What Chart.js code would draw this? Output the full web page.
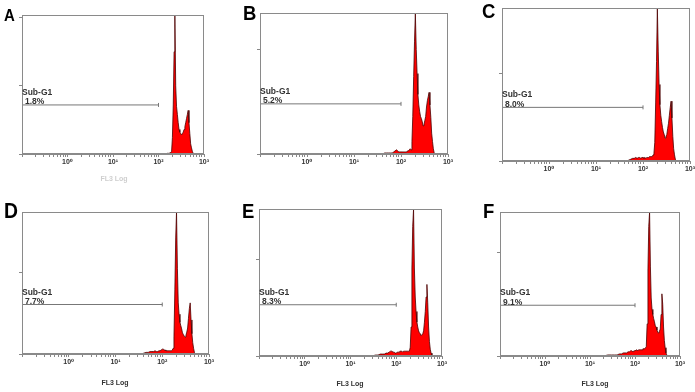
<!DOCTYPE html>
<html><head><meta charset="utf-8">
<script src="https://cdn.jsdelivr.net/npm/chart.js@4.4.1/dist/chart.umd.min.js"></script>
<style>
html,body{margin:0;padding:0;background:#fff;}
#stage{position:relative;width:695px;height:392px;overflow:hidden;background:#fff;font-family:"Liberation Sans",Arial,sans-serif;}
canvas{position:absolute;}
.letter{position:absolute;font-weight:bold;line-height:1;color:#000;transform-origin:0 0;transform:scaleX(0.88);}
.xtitle{position:absolute;width:60px;text-align:center;font-weight:bold;font-size:7px;color:#333;line-height:1;white-space:nowrap;will-change:transform;}
</style></head><body><div id="stage"></div>
<script>
// ---- data ----
const fl3Channels = [20,25,30,35,40,45,50,55,60,65,70,75,80,85,90,95,100,105,110,115,120,126,132,138,144,150,157,164,171,178,186,194,202,211,220,229,239,249,260,271,283,295,308,321,335,349,364,380,396,413,431,449,468,488,509,531,554,578,603,629,656,684];
const countsA = [0,0,0,0,0,0,0,0,0,0, 0,0,0,0,0,0,0,0,0,0, 0,0,0,0,0,0,1,1,1,2, 2,4,24,72,150,204,100,70,58,46, 36,32,30,28,30,32,36,40,46,52, 58,64,46,30,15,9,4,1,0,0, 0,0];
const countsB = [0,0,0,0,0,1,1,1,1,1, 2,3,4,3,2,2,2,2,2,2, 2,2,2,3,3,4,5,4,12,36, 74,108,135,100,77,57,47,41,36,34, 31,27,28,32,36,45,51,55,59,47, 35,20,12,5,1,0,0,0,0,0, 0,0];
const countsC = [0,0,0,0,0,0,1,2,3,3, 4,3,4,4,3,4,4,3,4,3, 4,4,4,5,5,5,5,7,9,21, 66,113,174,125,87,64,52,45,38,33, 30,26,28,30,37,43,52,61,68,49, 28,14,7,2,0,0,0,0,0,0, 0,0];
const countsD = [0,0,0,0,1,2,2,3,3,3, 4,3,3,4,4,5,6,6,5,5, 4,4,4,4,4,4,4,5,7,21, 79,143,175,105,63,49,39,35,31,26, 24,22,21,23,27,32,44,56,63,42, 25,14,7,2,0,0,0,0,0,0, 0,0];
const countsE = [0,0,0,1,1,2,2,2,3,3, 4,5,5,4,4,3,3,4,4,4, 5,5,5,4,5,5,5,5,5,5, 5,5,9,30,91,134,152,91,61,46, 35,30,26,24,23,21,21,23,26,35, 46,61,74,55,30,15,7,3,1,0, 0,0];
const countsF = [0,1,1,1,1,2,2,3,3,3, 4,4,5,5,4,5,5,5,6,5, 6,6,6,6,6,7,7,7,8,9, 31,83,125,139,86,56,45,40,36,33, 29,28,25,23,22,24,26,40,60,50, 28,15,8,3,1,0,0,0,0,0, 0,0];
const panelCounts = [countsA,countsB,countsC,countsD,countsE,countsF];
const panelLetters = ['A','B','C','D','E','F'];
const subG1Label = 'Sub-G1';
const subG1Percent = ['1.8%','5.2%','8.0%','7.7%','8.3%','9.1%'];
const subG1Level = [72,48,61,61,53,49];
const subG1Gate = [0.1,100];
const yAxisMax = [204,135,174,175,152,139];
const yTickValues = [0,100,200];
const xMajorTicks = [0.1,1,10,100,1000];
const xTickLabels = ['','10⁰','10¹','10²','10³'];
const xAxisTitle = 'FL3 Log';

// ---- layout ----
const layout = [
  {l:22, t:15, r:204, b:154, lx:4,   ly:7,   fs:17, tx:114, ty:175, tc:'#cfcfcf'},
  {l:260,t:13, r:448, b:154, lx:243, ly:2,   fs:21},
  {l:502,t:8,  r:690, b:161, lx:482, ly:0,   fs:21},
  {l:22, t:212,r:209, b:354, lx:4,   ly:200, fs:22, tx:115, ty:379, tc:'#333'},
  {l:259,t:209,r:442, b:356, lx:242, ly:200, fs:21, tx:350, ty:380, tc:'#333'},
  {l:500,t:212,r:680, b:356, lx:483, ly:200, fs:21, tx:595, ty:380, tc:'#333'}
];
const PAD_L=10, PAD_T=5, PAD_R=10, XH=22;
const FONT='"Liberation Sans", Arial, "DejaVu Sans", sans-serif';

const xAllTicks = [];
for (let d=0; d<4; d++) { for (let m=1; m<=9; m++) xAllTicks.push(m===1 ? xMajorTicks[d] : m*xMajorTicks[d]); }
xAllTicks.push(xMajorTicks[4]);

const decor = {
  id:'decor',
  afterDraw(chart, args, opts){
    const ctx=chart.ctx, a=chart.chartArea;
    ctx.save();
    ctx.strokeStyle='#8a8a8a'; ctx.lineWidth=1;
    ctx.strokeRect(Math.round(a.left)+0.5, Math.round(a.top)+0.5, Math.round(a.right-a.left)-1, Math.round(a.bottom-a.top)-1);
    const y=chart.scales.y.getPixelForValue(opts.level);
    ctx.font='bold 8.5px '+FONT; ctx.fillStyle='#333'; ctx.textBaseline='middle'; ctx.textAlign='left';
    ctx.fillText(subG1Label, a.left, Math.round(y-12));
    ctx.fillText(opts.pct, a.left+3, Math.round(y-2.5));
    ctx.restore();
  }
};

const stage=document.getElementById('stage');
layout.forEach((g,i)=>{
  const c=document.createElement('canvas');
  const w=(g.r-g.l)+PAD_L+PAD_R, h=(g.b-g.t)+PAD_T+XH;
  c.width=w; c.height=h;
  c.style.left=(g.l-PAD_L)+'px'; c.style.top=(g.t-PAD_T)+'px';
  c.style.width=w+'px'; c.style.height=h+'px';
  stage.appendChild(c);

  const L=document.createElement('div');
  L.className='letter'; L.textContent=panelLetters[i];
  L.style.left=g.lx+'px'; L.style.top=g.ly+'px'; L.style.fontSize=g.fs+'px';
  stage.appendChild(L);
  if (g.tx!==undefined){
    const T=document.createElement('div');
    T.className='xtitle'; T.textContent=xAxisTitle;
    T.style.left=(g.tx-30)+'px'; T.style.top=g.ty+'px'; T.style.color=g.tc;
    stage.appendChild(T);
  }

  const counts=panelCounts[i];
  new Chart(c,{
    type:'line',
    data:{datasets:[
      {data:fl3Channels.map((x,k)=>({x:x,y:counts[k]})), fill:'origin', backgroundColor:'#ff0000',
       borderColor:'#4a0000', borderWidth:0.8, pointRadius:0, tension:0, order:2},
      {data:subG1Gate.map(x=>({x:x,y:subG1Level[i]})), fill:false, borderColor:'#777', borderWidth:1,
       pointRadius:[0,2], pointStyle:'line', rotation:90, pointBorderColor:'#777', pointBorderWidth:1, order:1}
    ]},
    options:{
      responsive:false, animation:false, devicePixelRatio:1,
      layout:{padding:{left:0,top:PAD_T,right:PAD_R,bottom:0}},
      plugins:{legend:{display:false}, tooltip:{enabled:false}, decor:{level:subG1Level[i], pct:subG1Percent[i]}},
      scales:{
        x:{type:'logarithmic', min:0.1, max:1000,
           afterBuildTicks:s=>{s.ticks=xAllTicks.map(v=>({value:v}));},
           afterFit:s=>{s.height=XH;},
           ticks:{autoSkip:false, maxRotation:0, minRotation:0, padding:1, color:'#333',
                  font:{size:7, weight:'bold', family:FONT},
                  callback:(v)=>{const k=xMajorTicks.indexOf(v); return k<0?'':xTickLabels[k];}},
           grid:{drawOnChartArea:false, drawTicks:true, tickLength:3, color:'#888', tickColor:'#888'},
           border:{display:true, color:'#8a8a8a'}},
        y:{type:'linear', min:0, max:yAxisMax[i],
           afterBuildTicks:s=>{s.ticks=yTickValues.filter(v=>v<=yAxisMax[i]).map(v=>({value:v}));},
           afterFit:s=>{s.width=PAD_L;},
           ticks:{display:false},
           grid:{drawOnChartArea:false, drawTicks:true, tickLength:3, color:'#888', tickColor:'#888'},
           border:{display:true, color:'#8a8a8a'}}
      }
    },
    plugins:[decor]
  });
});
</script></body></html>
